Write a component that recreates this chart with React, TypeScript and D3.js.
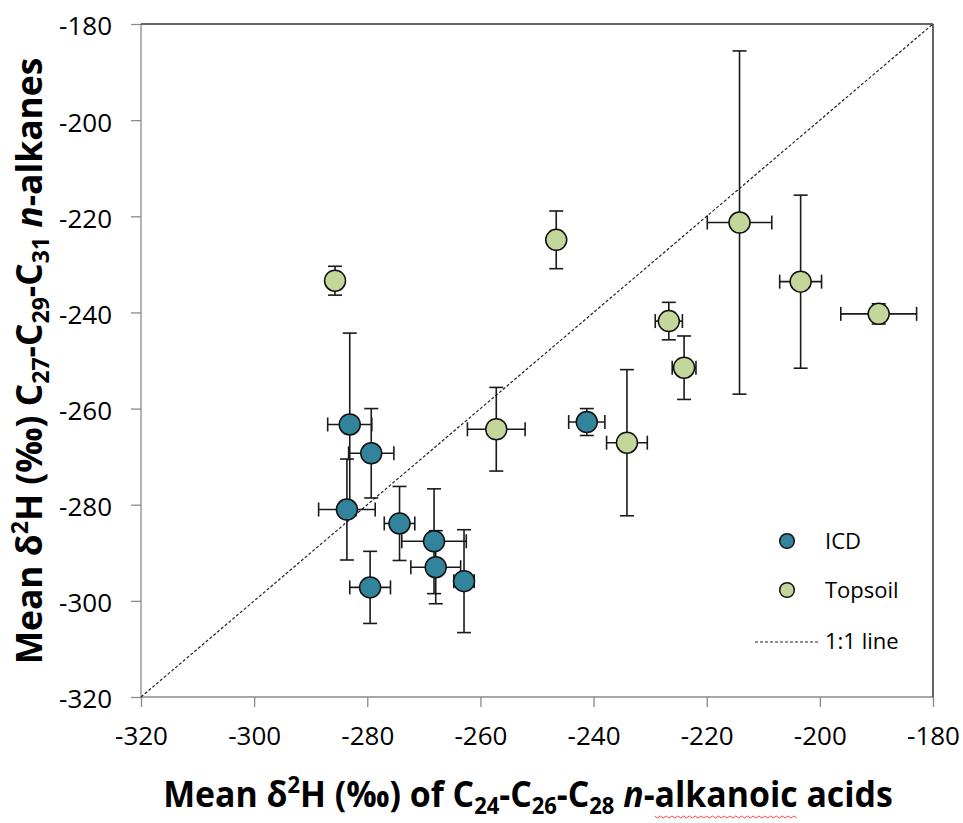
import { useEffect, useRef } from "react";
import * as d3 from "d3";

// ICD samples
const icdX = [-283.1, -279.3, -283.6, -274.3, -268.2, -267.9, -262.9, -279.5, -241.2];
const icdY = [-263.3, -269.3, -281.0, -283.9, -287.6, -293.0, -295.9, -297.2, -262.8];
const icdXErr = [3.9, 4.0, 5.0, 2.7, 5.7, 4.4, 1.8, 3.6, 3.2];
const icdYErr = [19.0, 9.3, 10.5, 7.7, 10.9, 7.6, 10.7, 7.5, 2.8];

// Topsoil samples
const topX = [-285.7, -246.6, -257.2, -234.1, -226.7, -224.0, -214.2, -203.4, -189.6];
const topY = [-233.4, -224.9, -264.3, -267.1, -241.8, -251.5, -221.3, -233.6, -240.3];
const topXErr = [0.5, 0.5, 5.1, 3.6, 2.4, 2.1, 5.7, 3.7, 6.7];
const topYErr = [3.0, 6.0, 8.7, 15.2, 3.9, 6.6, 35.7, 18.0, 2.1];

const axisTicks = [-320, -300, -280, -260, -240, -220, -200, -180];
const seriesNames = ["ICD", "Topsoil"];
const seriesColors = ["#31849B", "#C4D79B"];

type Seg = { t: string; k?: "sub" | "sup" | "it" };

const xTitle: Seg[] = [
  { t: "Mean \u03B4" }, { t: "2", k: "sup" }, { t: "H (\u2030) of C" }, { t: "24", k: "sub" },
  { t: "-C" }, { t: "26", k: "sub" }, { t: "-C" }, { t: "28", k: "sub" }, { t: " " },
  { t: "n", k: "it" }, { t: "-alkanoic acids" },
];
const yTitle: Seg[] = [
  { t: "Mean \u03B4" }, { t: "2", k: "sup" }, { t: "H (\u2030) C" }, { t: "27", k: "sub" },
  { t: "-C" }, { t: "29", k: "sub" }, { t: "-C" }, { t: "31", k: "sub" }, { t: " " },
  { t: "n", k: "it" }, { t: "-alkanes" },
];

const FONT = "'Open Sans', 'Noto Sans', sans-serif";

function richText(sel: any, segs: Seg[], fs: number) {
  let off = 0;
  segs.forEach((s) => {
    const target = s.k === "sub" ? 0.2 * fs : s.k === "sup" ? -0.4 * fs : 0;
    const ts = sel.append("tspan").text(s.t).attr("dy", target - off);
    if (s.k === "sub" || s.k === "sup") ts.attr("font-size", fs * 0.65);
    if (s.k === "it") ts.attr("font-style", "italic");
    off = target;
  });
}

export default function App() {
  const ref = useRef<SVGSVGElement>(null);

  useEffect(() => {
    const svg = d3.select(ref.current);
    svg.selectAll("*").remove();

    const x = d3.scaleLinear().domain([-320, -180]).range([141, 933]);
    const y = d3.scaleLinear().domain([-320, -180]).range([697, 24]);
    const [x0, x1] = x.range();
    const [y0, y1] = y.range();
    const fmt = (d: any) => String(d);

    // axes
    const yAxis = svg
      .append("g")
      .attr("transform", `translate(${x0},0)`)
      .call(d3.axisLeft(y).tickValues(axisTicks).tickSize(10).tickPadding(19).tickFormat(fmt));
    const xAxis = svg
      .append("g")
      .attr("transform", `translate(0,${y0})`)
      .call(d3.axisBottom(x).tickValues(axisTicks).tickSize(10).tickPadding(19.5).tickFormat(fmt));
    [yAxis, xAxis].forEach((ax) => {
      ax.select(".domain").remove();
      ax.selectAll(".tick line").attr("stroke", "#8a8a8a").attr("stroke-width", 1.3);
      ax.selectAll(".tick text")
        .attr("fill", "#000")
        .style("font-family", FONT)
        .style("font-size", "26px");
    });
    yAxis.selectAll(".tick text").attr("dy", "0.42em");
    xAxis.selectAll(".tick text").attr("dy", "0.71em");

    // plot frame
    svg.append("line").attr("x1", x0).attr("x2", x0).attr("y1", y0).attr("y2", y1)
      .attr("stroke", "#8a8a8a").attr("stroke-width", 1.3);
    svg.append("line").attr("x1", x0).attr("x2", x1).attr("y1", y0).attr("y2", y0)
      .attr("stroke", "#8a8a8a").attr("stroke-width", 1.3);
    svg.append("line").attr("x1", x0).attr("x2", x1).attr("y1", y1).attr("y2", y1)
      .attr("stroke", "#333").attr("stroke-width", 1.5);
    svg.append("line").attr("x1", x1).attr("x2", x1).attr("y1", y1).attr("y2", y0)
      .attr("stroke", "#333").attr("stroke-width", 1.5);

    // 1:1 line
    svg.append("line")
      .attr("x1", x(-320)).attr("y1", y(-320)).attr("x2", x(-180)).attr("y2", y(-180))
      .attr("stroke", "#222").attr("stroke-width", 1.2).attr("stroke-dasharray", "3,2");

    const series = [
      { xs: icdX, ys: icdY, xe: icdXErr, ye: icdYErr },
      { xs: topX, ys: topY, xe: topXErr, ye: topYErr },
    ];
    const cap = 7;

    series.forEach((s, si) => {
      const g = svg.append("g");
      s.xs.forEach((xv, i) => {
        const yv = s.ys[i];
        const eb = g.append("g").attr("stroke", "#1a1a1a").attr("stroke-width", 1.6);
        // vertical
        eb.append("line").attr("x1", x(xv)).attr("x2", x(xv)).attr("y1", y(yv - s.ye[i])).attr("y2", y(yv + s.ye[i]));
        [yv - s.ye[i], yv + s.ye[i]].forEach((v) =>
          eb.append("line").attr("x1", x(xv) - cap).attr("x2", x(xv) + cap).attr("y1", y(v)).attr("y2", y(v))
        );
        // horizontal
        eb.append("line").attr("y1", y(yv)).attr("y2", y(yv)).attr("x1", x(xv - s.xe[i])).attr("x2", x(xv + s.xe[i]));
        [xv - s.xe[i], xv + s.xe[i]].forEach((v) =>
          eb.append("line").attr("y1", y(yv) - cap).attr("y2", y(yv) + cap).attr("x1", x(v)).attr("x2", x(v))
        );
      });
      s.xs.forEach((xv, i) => {
        g.append("circle")
          .attr("cx", x(xv))
          .attr("cy", y(s.ys[i]))
          .attr("r", 10.5)
          .attr("fill", seriesColors[si])
          .attr("stroke", "#111")
          .attr("stroke-width", 1.5);
      });
    });

    // legend
    const leg = svg.append("g");
    seriesNames.forEach((name, i) => {
      const cy = 541 + i * 49;
      leg.append("circle").attr("cx", 787).attr("cy", cy).attr("r", 7.3)
        .attr("fill", seriesColors[i]).attr("stroke", "#111").attr("stroke-width", 1.5);
      leg.append("text").attr("x", 825).attr("y", cy + 8).text(name)
        .style("font-family", FONT).style("font-size", "22px").attr("fill", "#000");
    });
    leg.append("line").attr("x1", 755).attr("x2", 818).attr("y1", 642).attr("y2", 642)
      .attr("stroke", "#222").attr("stroke-width", 1.2).attr("stroke-dasharray", "3,2");
    leg.append("text").attr("x", 825).attr("y", 649).text("1:1 line")
      .style("font-family", FONT).style("font-size", "22px").attr("fill", "#000");

    // titles
    const titleFs = 35;
    const xg = svg.append("g");
    const xt = xg.append("text")
      .attr("text-anchor", "middle")
      .style("font-family", FONT).style("font-weight", "700").style("font-size", `${titleFs}px`)
      .attr("fill", "#000");
    richText(xt, xTitle, titleFs);
    const xNode = xt.node() as SVGTextElement;
    const xw = xNode.getBBox().width;
    xg.attr("transform", `translate(528,807) scale(${730 / xw},1)`);
    // spell-check squiggle under "alkanoic"
    const full = xNode.textContent || "";
    const idx = full.indexOf("alkanoic");
    if (idx >= 0) {
      const sx = xNode.getStartPositionOfChar(idx).x;
      const ex = xNode.getEndPositionOfChar(idx + 7).x;
      const pts: [number, number][] = [];
      for (let px = sx, k = 0; px <= ex; px += 3, k++) pts.push([px, 9 + (k % 2 ? 2 : 0)]);
      xg.append("path").attr("d", d3.line()(pts)).attr("fill", "none")
        .attr("stroke", "#e33").attr("stroke-width", 0.9);
    }

    const yg = svg.append("g");
    const yt = yg.append("text")
      .attr("text-anchor", "middle")
      .style("font-family", FONT).style("font-weight", "700").style("font-size", `${titleFs}px`)
      .attr("fill", "#000");
    richText(yt, yTitle, titleFs);
    const yw = (yt.node() as SVGTextElement).getBBox().width;
    yg.attr("transform", `translate(42,361) rotate(-90) scale(${607 / yw},1)`);
  }, []);

  return (
    <svg
      ref={ref}
      width={963}
      height={823}
      style={{ position: "absolute", left: 0, top: 0, background: "#fff" }}
    />
  );
}
